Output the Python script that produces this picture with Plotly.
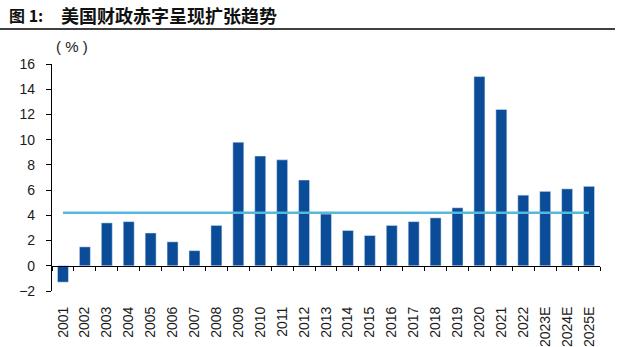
import plotly.graph_objects as go

years = ["2001", "2002", "2003", "2004", "2005", "2006", "2007", "2008", "2009",
         "2010", "2011", "2012", "2013", "2014", "2015", "2016", "2017", "2018",
         "2019", "2020", "2021", "2022", "2023E", "2024E", "2025E"]
deficit = [-1.3, 1.5, 3.4, 3.5, 2.6, 1.9, 1.2, 3.2, 9.8, 8.7, 8.4, 6.8, 4.1,
           2.8, 2.4, 3.2, 3.5, 3.8, 4.6, 15.0, 12.4, 5.6, 5.9, 6.1, 6.3]
ref_line = [4.2, 4.2, 4.2, 4.2, 4.2, 4.2, 4.2, 4.2, 4.2, 4.2, 4.2, 4.2, 4.2,
            4.2, 4.2, 4.2, 4.2, 4.2, 4.2, 4.2, 4.2, 4.2, 4.2, 4.2, 4.2]
y_ticks = [-2, 0, 2, 4, 6, 8, 10, 12, 14, 16]

BAR = "#0A4C97"
LINE = "#55B8DC"
TXT = "#1a1a1a"

fig = go.Figure()
fig.add_trace(go.Bar(x=years, y=deficit, marker_color=BAR, width=0.5,
                     showlegend=False, xaxis="x", yaxis="y"))
fig.add_trace(go.Scatter(x=years, y=ref_line, mode="lines",
                         line=dict(color=LINE, width=2.5),
                         showlegend=False, xaxis="x2", yaxis="y"))

fig.update_layout(
    width=640, height=347,
    margin=dict(l=52, r=40, t=64, b=56),
    paper_bgcolor="white", plot_bgcolor="white",
    font=dict(family="Liberation Sans, Arial, sans-serif", size=14, color=TXT),
    bargap=0.5,
    xaxis=dict(type="category", categoryorder="array", categoryarray=years,
               range=[-0.5, 24.5], showline=False, showgrid=False,
               automargin=False,
               ticks="outside", ticklen=9, tickcolor="rgba(0,0,0,0)",
               tickangle=-90, tickfont=dict(size=14, color=TXT),
               zeroline=False),
    xaxis2=dict(type="category", categoryorder="array", categoryarray=years,
                range=[-0.5, 24.5], overlaying="x", anchor="free",
                position=(0 - (-2)) / (16 - (-2)),
                showline=True, linecolor="#000000", linewidth=1.2,
                ticks="outside", tickson="boundaries", ticklen=4,
                tickcolor="#000000", tickwidth=1, automargin=False,
                showticklabels=False, showgrid=False, zeroline=False),
    yaxis=dict(range=[-2, 16], tickvals=y_ticks, showline=True,
               linecolor="#000000", linewidth=1.2, ticks="outside",
               ticklen=5, tickcolor="#000000", showgrid=False,
               automargin=False, ticklabelstandoff=8,
               zeroline=False, tickfont=dict(size=14, color=TXT)),
    shapes=[dict(type="line", xref="paper", yref="paper",
                 x0=-52/548, x1=615/548 - 52/548, y0=1 + 35/227, y1=1 + 35/227,
                 line=dict(color="#404040", width=2))],
    annotations=[
        dict(text="<b>图 1:</b>", xref="paper", yref="paper",
             x=-45/548, y=1 + 49/227, xanchor="left", yanchor="middle",
             showarrow=False,
             font=dict(family="Noto Sans CJK SC, sans-serif", size=16, color="#111111")),
        dict(text="<b>美国财政赤字呈现扩张趋势</b>", xref="paper", yref="paper",
             x=7/548, y=1 + 49/227, xanchor="left", yanchor="middle",
             showarrow=False,
             font=dict(family="Noto Sans CJK SC, sans-serif", size=18, color="#111111")),
        dict(text="( % )", xref="paper", yref="paper",
             x=2/548, y=1 + 18/227, xanchor="left", yanchor="middle",
             showarrow=False, font=dict(size=15, color=TXT)),
    ],
)

fig.write_html("out.html")
